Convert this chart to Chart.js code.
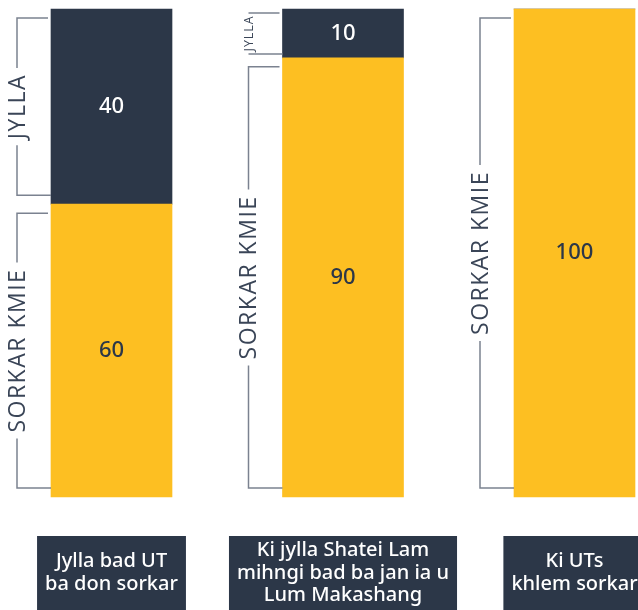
<!DOCTYPE html>
<html>
<head>
<meta charset="utf-8">
<script src="https://cdn.jsdelivr.net/npm/chart.js@4"></script>
<style>
  html, body { margin: 0; padding: 0; background: #fff; }
</style>
</head>
<body>
<canvas id="chart" width="638" height="610"></canvas>
<script>
// data
var categories = [
  ['Jylla bad UT', 'ba don sorkar'],
  ['Ki jylla Shatei Lam', 'mihngi bad ba jan ia u', 'Lum Makashang'],
  ['Ki UTs', 'khlem sorkar']
];
var series_names = ['SORKAR KMIE', 'JYLLA'];
var sorkar_kmie = [60, 90, 100];
var jylla = [40, 10, 0];

var navy = '#2c3748';
var yellow = '#fdbf22';
var bracket_color = '#7b8290';

// brackets, value labels and the dark label boxes under each bar
var decor = {
  id: 'decor',
  afterDatasetsDraw: function(chart) {
    var ctx = chart.ctx;
    chart.data.datasets.forEach(function(ds, di) {
      var meta = chart.getDatasetMeta(di);
      meta.data.forEach(function(bar, i) {
        if (!ds.data[i]) return;
        var p = bar.getProps(['x', 'y', 'base', 'width'], true);
        var top = Math.min(p.y, p.base), bottom = Math.max(p.y, p.base);
        var left = p.x - p.width / 2;
        var mid = (top + bottom) / 2;

        ctx.save();
        ctx.fillStyle = di == 0 ? navy : '#fff';
        ctx.font = '500 22px "Noto Sans"';
        ctx.textAlign = 'center';
        ctx.textBaseline = 'middle';
        ctx.fillText(ds.data[i], p.x, mid);

        // bracket
        var h = bottom - top;
        var inset = Math.min(9, h * 0.08);
        var y1 = top + inset, y2 = bottom - inset;
        var bx = left - 34, tx = left - 3;
        var size = 23;
        ctx.font = '400 ' + size + 'px "Open Sans"';
        ctx.letterSpacing = '1.5px';
        var w = ctx.measureText(ds.label).width;
        if (w + 8 > y2 - y1) {
          size = size * (y2 - y1 - 6) / w;
          ctx.letterSpacing = '1px';
          ctx.font = '400 ' + size.toFixed(1) + 'px "Open Sans"';
          w = ctx.measureText(ds.label).width;
        }
        var gap = w / 2 + 6;
        var cy = (y1 + y2) / 2;
        ctx.strokeStyle = bracket_color;
        ctx.lineWidth = 1.5;
        ctx.beginPath();
        ctx.moveTo(tx, y1); ctx.lineTo(bx, y1);
        ctx.lineTo(bx, Math.max(y1, cy - gap));
        ctx.moveTo(bx, Math.min(y2, cy + gap));
        ctx.lineTo(bx, y2); ctx.lineTo(tx + 3, y2);
        ctx.stroke();

        ctx.translate(bx, cy);
        ctx.rotate(-Math.PI / 2);
        ctx.fillStyle = '#3a4557';
        ctx.fillText(ds.label, 0, 1);
        ctx.restore();
      });
    });

    // category boxes
    var xs = chart.scales.x;
    var boxTop = chart.chartArea.bottom + 39;
    ctx.save();
    ctx.font = '500 20px "Noto Sans"';
    ctx.letterSpacing = '0px';
    ctx.textAlign = 'center';
    ctx.textBaseline = 'middle';
    categories.forEach(function(lines, i) {
      var cx = xs.getPixelForValue(i);
      var maxw = 0;
      lines.forEach(function(l) { maxw = Math.max(maxw, ctx.measureText(l).width); });
      var bw = maxw + 16;
      ctx.fillStyle = navy;
      ctx.fillRect(cx - bw / 2, boxTop, bw, chart.height - boxTop + 2);
      var lh = 22.5;
      var cy = boxTop + 37;
      ctx.fillStyle = '#fff';
      lines.forEach(function(l, k) {
        ctx.fillText(l, cx, cy + (k - (lines.length - 1) / 2) * lh);
      });
    });
    ctx.restore();
  }
};

new Chart(document.getElementById('chart'), {
  type: 'bar',
  data: {
    labels: categories,
    datasets: [
      { label: series_names[0], data: sorkar_kmie, backgroundColor: yellow, clip: false },
      { label: series_names[1], data: jylla, backgroundColor: navy, clip: false }
    ]
  },
  options: {
    responsive: false,
    animation: false,
    barThickness: 121,
    layout: { padding: { left: 111.5, right: 63.5, top: 9, bottom: 113 } },
    plugins: { legend: { display: false }, tooltip: { enabled: false } },
    scales: {
      x: { stacked: true, display: false, offset: false },
      y: { stacked: true, display: false, min: 0, max: 100 }
    }
  },
  plugins: [decor]
});
</script>
</body>
</html>
